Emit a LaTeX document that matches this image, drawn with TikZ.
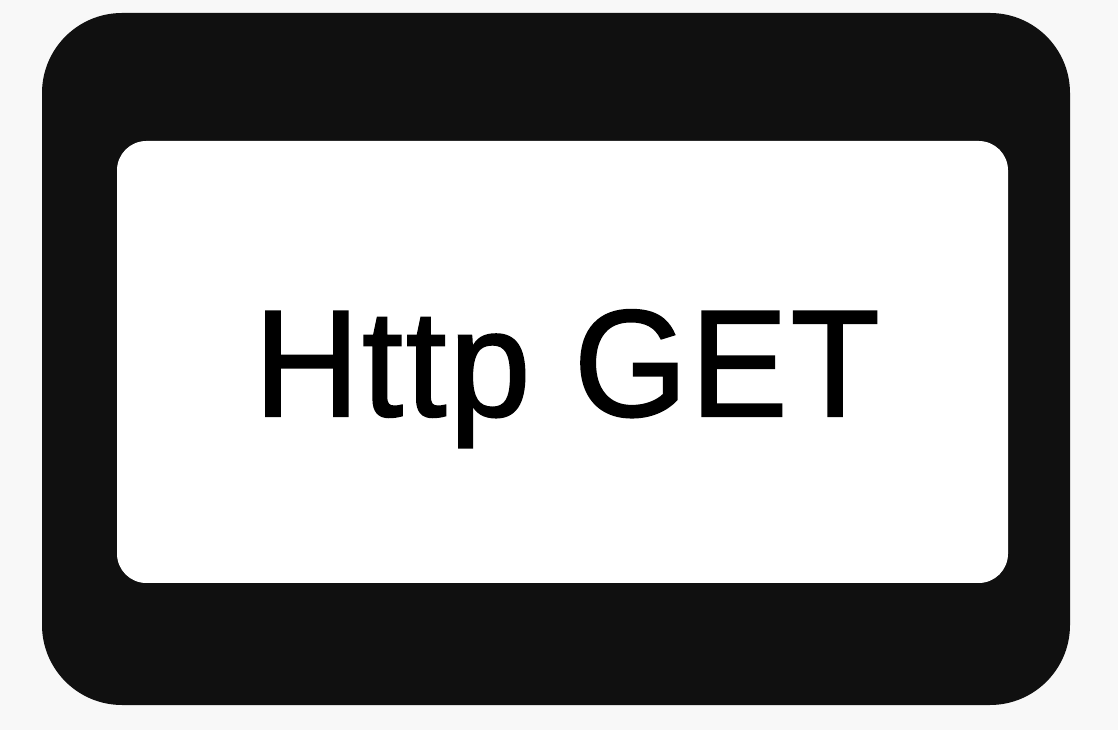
\documentclass[tikz,border=0pt]{standalone}
\usepackage{fontspec}
\setmainfont{Liberation Sans}
\newfontfamily\labelfont[FakeBold=1.4, LetterSpace=2]{Liberation Sans}
\usepackage{tikz}
\definecolor{bggray}{HTML}{F8F8F8}
\definecolor{framegray}{HTML}{101010}
\begin{document}
\begin{tikzpicture}[x=0.75pt, y=-0.75pt,
		frame/.style={fill=framegray, rounded corners=60pt},
		panel/.style={fill=white, rounded corners=22pt},
		label/.style={anchor=base, inner sep=0pt, xscale=0.96, transform shape,
			font=\labelfont\fontsize{114}{120}\selectfont}]
		% Hintergrund und Bildbereich
		\fill[bggray] (0,0) rectangle (1118,730);
		\useasboundingbox (0,0) rectangle (1118,730);
		% Rahmen zeichnen
		\fill[frame] (42,13) rectangle (1070,705);
		\fill[panel] (117,141) rectangle (1008,583);
		% Beschriftung
		\node[label] (get) at (567,416) {Http GET};
	\end{tikzpicture}
\end{document}
